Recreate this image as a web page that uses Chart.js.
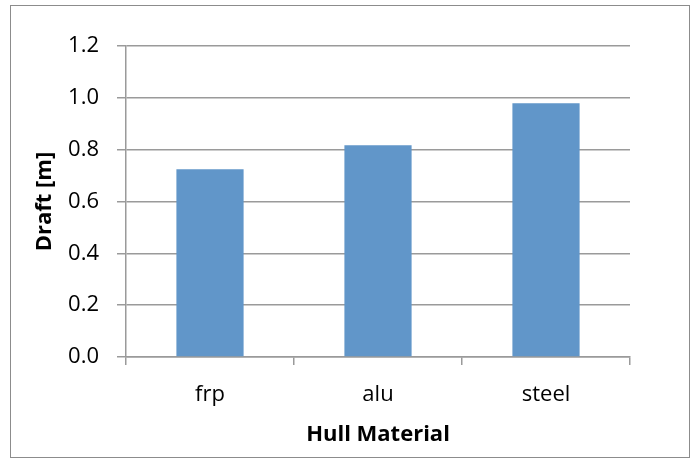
<!DOCTYPE html>
<html lang="en">
<head>
  <meta charset="UTF-8" />
  <title>Draft by Hull Material</title>
  <style>
    html, body { margin: 0; padding: 0; background: #fff; }
    #frame { position: absolute; left: 10px; top: 5px; width: 678px; height: 451px; border: 1px solid #8c8c8c; }
    #draftChart { display: block; }
  </style>
</head>
<body>
  <div id="frame">
    <canvas id="draftChart" width="678" height="451"></canvas>
  </div>
  <script src="https://cdn.jsdelivr.net/npm/chart.js"></script>
  <script>
    const materials = ['frp', 'alu', 'steel'];
    const drafts = [0.724, 0.817, 0.979];
    const yTicks = [0, 0.2, 0.4, 0.6, 0.8, 1.0, 1.2];

    const axisGray = '#9a9a9a';
    const fontFamily = '"Open Sans", sans-serif';

    const ctx = document.getElementById('draftChart').getContext('2d');
    new Chart(ctx, {
      type: 'bar',
      data: {
        labels: materials,
        datasets: [{ label: 'Draft [m]', data: drafts, backgroundColor: '#6196c9', borderWidth: 0, barPercentage: 0.4, categoryPercentage: 1.0 }]
      },
      options: {
        responsive: false, animation: false,
        layout: { padding: { left: 0, top: 40, right: 59, bottom: 0 } },
        plugins: { legend: { display: false }, tooltip: { enabled: false } },
        scales: {
          x: {
            afterFit: s => { s.height = 100; },
            grid: { offset: true, drawOnChartArea: false, color: axisGray, tickLength: 8, lineWidth: 1.5 },
            border: { color: axisGray, width: 1.5 },
            ticks: { color: '#000', padding: 17, font: { family: fontFamily, size: 22 } },
            title: { display: true, text: 'Hull Material', color: '#000', padding: { top: 0, bottom: 9 }, font: { family: fontFamily, size: 22, weight: 'bold', lineHeight: 1.2 } }
          },
          y: {
            min: 0, max: 1.2,
            afterFit: s => { s.width = 115; },
            afterBuildTicks: s => { s.ticks = yTicks.map(v => ({ value: v })); },
            grid: { color: axisGray, tickLength: 9, lineWidth: 1.5 },
            border: { color: axisGray, width: 1.5 },
            ticks: { color: '#000', padding: 18, font: { family: fontFamily, size: 22 }, callback: v => Number(v).toFixed(1) },
            title: { display: true, text: 'Draft [m]', color: '#000', padding: { top: 21, bottom: 0 }, font: { family: fontFamily, size: 22, weight: 'bold', lineHeight: 1.2 } }
          }
        }
      }
    });
  </script>
</body>
</html>
